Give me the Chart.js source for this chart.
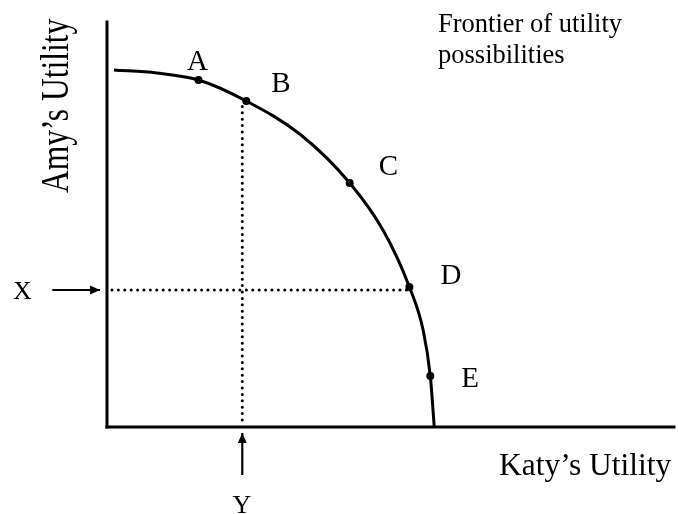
<!DOCTYPE html>
<html>
<head>
<meta charset="utf-8">
<script src="https://cdn.jsdelivr.net/npm/chart.js@4.4.1/dist/chart.umd.min.js"></script>
<style>
  html, body { margin: 0; padding: 0; background: #fff; }
  #wrap { width: 678px; height: 514px; position: relative; }
</style>
</head>
<body>
<div id="wrap"><canvas id="c"></canvas></div>
<script>
// ---- data (Katy's utility on x, Amy's utility on y) ----
const frontierKaty = [7, 50, 92, 140, 195, 244, 278, 304, 318, 325, 329];
const frontierAmy  = [357, 354, 347, 326, 292, 244, 196, 140, 96, 51, 0];
const pointNames = ['A', 'B', 'C', 'D', 'E'];
const pointKaty  = [92, 140, 244, 304, 325];
const pointAmy   = [347, 326, 244, 140, 51];
const levelAmyX  = 137;   // X: Amy's utility level
const levelKatyY = 136;   // Y: Katy's utility level
const axisMaxKaty = 570;
const axisMaxAmy  = 405;

const frontier = frontierKaty.map((v, i) => ({ x: v, y: frontierAmy[i] }));
const points = pointKaty.map((v, i) => ({ x: v, y: pointAmy[i] }));

const labelOffsets = [[-1, -10, 'center'], [25, -9, 'left'], [29, -8, 'left'], [31, -3, 'left'], [31, 11, 'left']];
const SERIF = '"Liberation Serif", "DejaVu Serif", serif';

const textPlugin = {
  id: 'texts',
  afterDatasetsDraw(chart) {
    const ctx = chart.ctx;
    ctx.save();
    ctx.fillStyle = '#000';
    // arrowheads
    chart.data.datasets.forEach((ds, di) => {
      if (!ds.arrow) return;
      const pts = chart.getDatasetMeta(di).data;
      const a = pts[pts.length - 2], b = pts[pts.length - 1];
      const ang = Math.atan2(b.y - a.y, b.x - a.x);
      const L = 10, W = 4.5;
      ctx.beginPath();
      ctx.moveTo(b.x, b.y);
      ctx.lineTo(b.x - L * Math.cos(ang) + W * Math.sin(ang), b.y - L * Math.sin(ang) - W * Math.cos(ang));
      ctx.lineTo(b.x - L * Math.cos(ang) - W * Math.sin(ang), b.y - L * Math.sin(ang) + W * Math.cos(ang));
      ctx.closePath();
      ctx.fill();
    });
    ctx.textBaseline = 'alphabetic';
    // point labels
    const meta = chart.getDatasetMeta(1);
    ctx.font = '29px ' + SERIF;
    meta.data.forEach((pt, i) => {
      const o = labelOffsets[i];
      ctx.textAlign = o[2];
      ctx.fillText(pointNames[i], pt.x + o[0], pt.y + o[1]);
    });
    // X and Y
    ctx.font = '26px ' + SERIF;
    ctx.textAlign = 'left';
    ctx.fillText('X', 13, 299);
    ctx.textAlign = 'center';
    ctx.fillText('Y', 242, 513);
    // Frontier note
    ctx.font = '26.5px ' + SERIF;
    ctx.textAlign = 'left';
    ctx.fillText('Frontier of utility', 438, 32);
    ctx.fillText('possibilities', 438, 63);
    // Katy's Utility
    ctx.font = '31.5px ' + SERIF;
    ctx.fillText('Katy\u2019s Utility', 499, 475);
    // Amy's Utility (rotated)
    ctx.save();
    ctx.translate(68, 193);
    ctx.rotate(-Math.PI / 2);
    ctx.scale(1, 1.3);
    ctx.font = '31.5px ' + SERIF;
    ctx.textAlign = 'left';
    ctx.fillText('Amy\u2019s Utility', 0, 0);
    ctx.restore();
    ctx.restore();
  }
};

new Chart(document.getElementById('c'), {
  type: 'scatter',
  data: {
    datasets: [
      { label: 'Frontier', data: frontier, showLine: true, borderColor: '#000', borderWidth: 3,
        pointRadius: 0, cubicInterpolationMode: 'monotone', fill: false, order: 1 },
      { label: 'Points', data: points, showLine: false, pointRadius: 4, pointBackgroundColor: '#000',
        pointBorderColor: '#000', pointBorderWidth: 0, order: 0 },
      { label: 'Y level', data: [{ x: levelKatyY, y: 7 }, { x: levelKatyY, y: pointAmy[1] }], showLine: true,
        borderColor: '#000', borderWidth: 3, borderDash: [0, 6.4], borderCapStyle: 'round', pointRadius: 0, order: 2 },
      { label: 'X level', data: [{ x: 5, y: levelAmyX }, { x: pointKaty[3], y: levelAmyX }], showLine: true,
        borderColor: '#000', borderWidth: 3, borderDash: [0, 6.4], borderCapStyle: 'round', pointRadius: 0, order: 2 },
      { label: 'Amy axis', data: [{ x: 0, y: 0 }, { x: 0, y: axisMaxAmy }], showLine: true,
        borderColor: '#000', borderWidth: 3, pointRadius: 0, clip: false, borderCapStyle: 'square' },
      { label: 'Katy axis', data: [{ x: 0, y: 0 }, { x: axisMaxKaty, y: 0 }], showLine: true,
        borderColor: '#000', borderWidth: 3, pointRadius: 0, clip: false, borderCapStyle: 'square' },
      { label: 'X arrow', arrow: true, data: [{ x: -55, y: levelAmyX }, { x: -7, y: levelAmyX }], showLine: true,
        borderColor: '#000', borderWidth: 2.2, pointRadius: 0, clip: false },
      { label: 'Y arrow', arrow: true, data: [{ x: levelKatyY, y: -48 }, { x: levelKatyY, y: -6 }], showLine: true,
        borderColor: '#000', borderWidth: 2.2, pointRadius: 0, clip: false }
    ]
  },
  options: {
    responsive: true,
    maintainAspectRatio: false,
    animation: false,
    events: [],
    layout: { padding: { left: 107, right: 1, top: 22, bottom: 87 } },
    plugins: { legend: { display: false }, tooltip: { enabled: false }, title: { display: false } },
    scales: {
      x: { type: 'linear', min: 0, max: axisMaxKaty, display: false },
      y: { type: 'linear', min: 0, max: axisMaxAmy, display: false }
    }
  },
  plugins: [textPlugin]
});
</script>
</body>
</html>
